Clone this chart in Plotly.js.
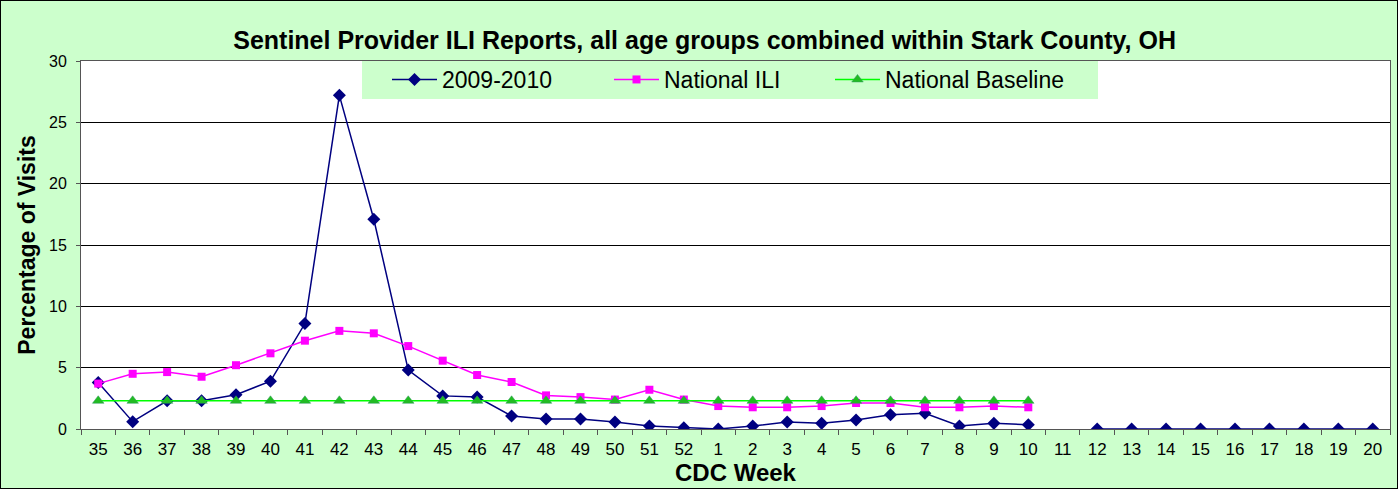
<!DOCTYPE html>
<html>
<head>
<meta charset="utf-8">
<script src="https://cdn.plot.ly/plotly-3.0.1.min.js"></script>
<style>
html,body{margin:0;padding:0;background:#fff;}
#chart{width:1398px;height:489px;}
</style>
</head>
<body>
<div id="chart"></div>
<script>
const weeks = ["35","36","37","38","39","40","41","42","43","44","45","46","47","48","49","50","51","52",
  "1","2","3","4","5","6","7","8","9","10","11","12","13","14","15","16","17","18","19","20"];
const stark = [3.8,0.6,2.3,2.3,2.8,3.9,8.6,27.2,17.1,4.8,2.7,2.6,1.06,0.81,0.81,0.57,0.24,0.11,
  0,0.24,0.57,0.46,0.73,1.17,1.28,0.24,0.46,0.35,null,0,0,0,0,0,0,0,0,0];
const nationalILI = [3.7,4.5,4.64,4.26,5.2,6.17,7.2,8.0,7.8,6.76,5.57,4.4,3.83,2.74,2.6,2.4,3.2,2.4,
  1.87,1.77,1.77,1.87,2.12,2.12,1.77,1.77,1.87,1.77,null,null,null,null,null,null,null,null,null,null];
const baseline = [2.3,2.3,2.3,2.3,2.3,2.3,2.3,2.3,2.3,2.3,2.3,2.3,2.3,2.3,2.3,2.3,2.3,2.3,
  2.3,2.3,2.3,2.3,2.3,2.3,2.3,2.3,2.3,2.3,null,null,null,null,null,null,null,null,null,null];
const yTicks = [0,5,10,15,20,25,30];

const traces = [
  {x: weeks, y: stark, name: "2009-2010", type: "scatter", mode: "lines+markers", legend: "legend",
   line: {color: "#000080", width: 1.5}, marker: {symbol: "diamond", size: 10, color: "#000080"}, connectgaps: false},
  {x: weeks, y: nationalILI, name: "National ILI", type: "scatter", mode: "lines+markers", legend: "legend2",
   line: {color: "#FF00FF", width: 1.5}, marker: {symbol: "square", size: 8, color: "#FF00FF"}, connectgaps: false},
  {x: weeks, y: baseline, name: "National Baseline", type: "scatter", mode: "lines+markers", legend: "legend3",
   line: {color: "#00FF00", width: 1.5}, marker: {symbol: "triangle-up", size: 10, color: "#22BB22", line: {color: "#339966", width: 0.5}}, connectgaps: false}
];

const W = 1398, H = 489, L = 81, R = 8, T = 61, B = 60;
const pw = W - L - R, ph = H - T - B;
const px = v => (v - L) / pw;
const py = v => 1 - (v - T) / ph;

const legendBase = {orientation: "h", xanchor: "left", y: py(58), yanchor: "top", xref: "paper", yref: "paper",
  bgcolor: "rgba(0,0,0,0)", font: {size: 23}, itemwidth: 45};

const layout = {
  width: W, height: H,
  paper_bgcolor: "#CCFFCC", plot_bgcolor: "#FFFFFF",
  margin: {l: L, r: R, t: T, b: B},
  font: {family: "Liberation Sans, Arial, sans-serif", color: "#000"},
  title: {text: "<b>Sentinel Provider ILI Reports, all age groups combined within Stark County, OH</b>",
    font: {size: 25}, x: 0.504, xanchor: "center", xref: "container", y: 1 - 40 / H, yanchor: "middle", yref: "container"},
  showlegend: true,
  legend: Object.assign({}, legendBase, {x: px(387)}),
  legend2: Object.assign({}, legendBase, {x: px(609)}),
  legend3: Object.assign({}, legendBase, {x: px(830)}),
  shapes: [
    {type: "rect", xref: "paper", yref: "paper", x0: px(362), x1: px(1098), y0: py(99), y1: py(61),
     fillcolor: "#CCFFCC", line: {width: 0}, layer: "above"},
    {type: "rect", xref: "paper", yref: "paper", x0: -L / pw, x1: 1 + R / pw, y0: -B / ph, y1: 1 + T / ph,
     fillcolor: "rgba(0,0,0,0)", line: {width: 2, color: "#000"}, layer: "below"}
  ],
  xaxis: {type: "category", categoryorder: "array", categoryarray: weeks, range: [-0.5, weeks.length - 0.5],
    tickson: "boundaries", ticks: "outside", ticklen: 5, tickcolor: "#555",
    showgrid: false, showline: true, linecolor: "#555", linewidth: 1, mirror: true,
    tickfont: {size: 17}, ticklabelstandoff: 5,
    title: {text: "<b>CDC Week</b>", font: {size: 24}, standoff: 0}},
  yaxis: {range: [0, 30], tickvals: yTicks, ticks: "outside", ticklen: 4, tickcolor: "#555",
    showgrid: true, gridcolor: "#000", gridwidth: 1, zeroline: false,
    showline: true, linecolor: "#555", linewidth: 1, mirror: true,
    tickfont: {size: 16}, ticklabelstandoff: 6,
    title: {text: "<b>Percentage of Visits</b>", font: {size: 23}, standoff: 6}}
};

Plotly.newPlot("chart", traces, layout, {displayModeBar: false, responsive: false});
</script>
</body>
</html>
